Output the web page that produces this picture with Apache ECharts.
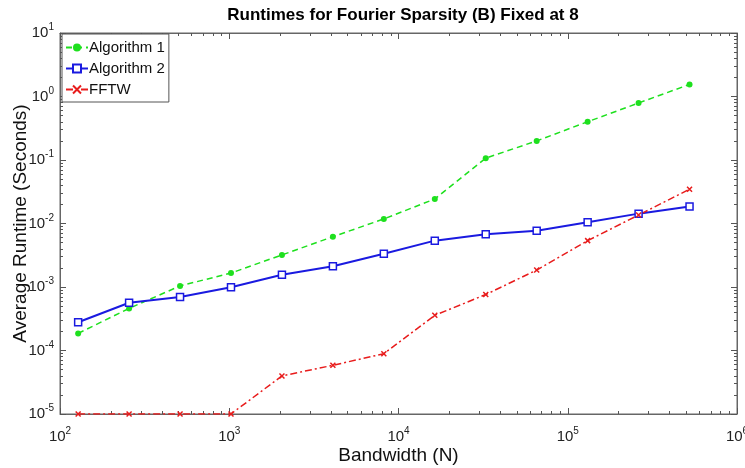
<!DOCTYPE html>
<html>
<head>
<meta charset="utf-8">
<script src="https://cdn.jsdelivr.net/npm/echarts@6/dist/echarts.min.js"></script>
<style>
  html, body { margin: 0; padding: 0; background: #fff; }
  #chart { width: 745px; height: 468px; }
</style>
</head>
<body>
<div id="chart"></div>
<script>
// bandwidth N = 2^7 .. 2^19
const bandwidth = [128, 256, 512, 1024, 2048, 4096, 8192, 16384, 32768, 65536, 131072, 262144, 524288];
const algo1 = [1.86e-4, 4.6e-4, 1.04e-3, 1.66e-3, 3.2e-3, 6.2e-3, 1.18e-2, 2.43e-2, 0.107, 0.2, 0.4, 0.79, 1.55];
const algo2 = [2.78e-4, 5.66e-4, 6.96e-4, 9.9e-4, 1.56e-3, 2.12e-3, 3.35e-3, 5.37e-3, 6.76e-3, 7.7e-3, 1.05e-2, 1.43e-2, 1.86e-2];
const fftw = [1e-5, 1e-5, 1e-5, 1e-5, 3.98e-5, 5.85e-5, 8.9e-5, 3.58e-4, 7.6e-4, 1.85e-3, 5.37e-3, 1.36e-2, 3.47e-2];

const xMin = 1e2, xMax = 1e6;
const yMin = 1e-5, yMax = 1e1;

// minor ticks 2..9 in each decade
function minorTicks(lo, hi) {
  const out = [];
  for (let e = Math.log10(lo); e < Math.log10(hi); e++) {
    for (let k = 2; k <= 9; k++) out.push(+(k * Math.pow(10, e)).toPrecision(6));
  }
  return out;
}

const fontFamily = 'Liberation Sans, Arial, Helvetica, sans-serif';
const axisColor = '#666';

const powLabel = {
  formatter: (v) => '{b|10}{s|' + Math.round(Math.log10(v)) + '}',
  rich: {
    b: { fontSize: 15, color: '#222', fontFamily },
    s: { fontSize: 10, color: '#222', fontFamily, padding: [0, 0, 11, 0] }
  }
};

function makeAxes(kind) {
  const isX = kind === 'x';
  const base = {
    type: 'log', logBase: 10,
    min: isX ? xMin : yMin, max: isX ? xMax : yMax,
    splitLine: { show: false },
    axisLine: { show: true, lineStyle: { color: axisColor, width: 1 } }
  };
  const pos = isX ? ['bottom', 'top'] : ['left', 'right'];
  const minor = minorTicks(isX ? xMin : yMin, isX ? xMax : yMax);
  const axes = [];
  pos.forEach((p, i) => {
    axes.push(Object.assign({}, base, {
      position: p,
      axisTick: { show: true, inside: true, length: 6, lineStyle: { color: '#555' } },
      axisLabel: i === 0 ? Object.assign({ show: true, margin: isX ? 12 : 6, fontFamily }, powLabel) : { show: false },
      name: i === 0 ? (isX ? 'Bandwidth (N)' : 'Average Runtime (Seconds)') : '',
      nameLocation: 'middle',
      nameMoveOverlap: false,
      nameGap: isX ? 32 : 30,
      nameTextStyle: { fontSize: 19, color: '#111', fontFamily }
    }));
    axes.push(Object.assign({}, base, {
      position: p,
      axisLine: { show: false },
      axisTick: { show: true, inside: true, length: 3, customValues: minor, lineStyle: { color: '#555' } },
      axisLabel: { show: false }
    }));
  });
  return axes;
}

const chart = echarts.init(document.getElementById('chart'), null, { renderer: 'canvas' });

const option = {
  backgroundColor: '#fff',
  animation: false,
  title: {
    text: 'Runtimes for Fourier Sparsity (B) Fixed at 8',
    left: 398, top: 2, textAlign: 'center',
    textStyle: { fontSize: 17, fontWeight: 'bold', color: '#000', fontFamily }
  },
  grid: {
    left: 60, right: 8, top: 33, bottom: 54, outerBoundsMode: 'none',
    show: true, borderColor: axisColor, borderWidth: 1
  },
  legend: {
    orient: 'vertical', left: 62, top: 34,
    backgroundColor: '#fff', borderColor: '#555', borderWidth: 1, borderRadius: 0,
    padding: [6, 4, 5, 3], itemGap: 6, itemWidth: 22, itemHeight: 10,
    textStyle: { fontSize: 15, color: '#111', fontFamily, padding: [0, 0, 0, -4] },
    data: ['Algorithm 1', 'Algorithm 2', 'FFTW']
  },
  xAxis: makeAxes('x'),
  yAxis: makeAxes('y'),
  series: [
    {
      name: 'Algorithm 1', type: 'line',
      data: bandwidth.map((n, i) => [n, algo1[i]]),
      symbol: 'circle', symbolSize: 6,
      lineStyle: { color: '#1ee01e', width: 1.5, type: [6, 4] },
      itemStyle: { color: '#1ee01e' }
    },
    {
      name: 'Algorithm 2', type: 'line',
      data: bandwidth.map((n, i) => [n, algo2[i]]),
      symbol: 'rect', symbolSize: 7,
      lineStyle: { color: '#1a1ae0', width: 2 },
      itemStyle: { color: '#fff', borderColor: '#1a1ae0', borderWidth: 1.5 }
    },
    {
      name: 'FFTW', type: 'line',
      data: bandwidth.map((n, i) => [n, fftw[i]]),
      symbol: 'path://M0,0L10,10M10,0L0,10', symbolSize: 5,
      lineStyle: { color: '#e81c1c', width: 1.5, type: [7, 3, 2, 3] },
      itemStyle: { color: '#e81c1c', borderColor: '#e81c1c', borderWidth: 1.5 }
    }
  ]
};

chart.setOption(option);
</script>
</body>
</html>
